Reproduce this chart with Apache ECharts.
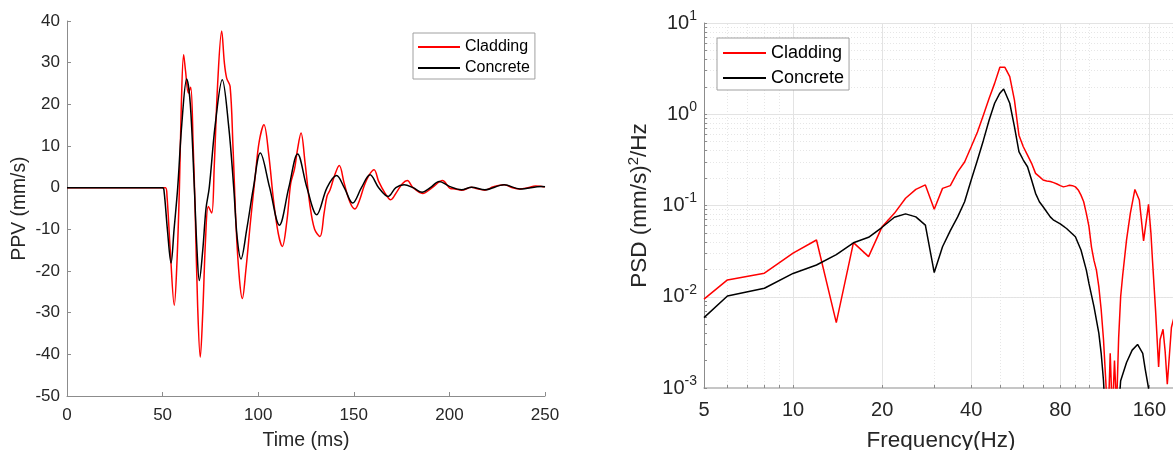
<!DOCTYPE html>
<html>
<head>
<meta charset="utf-8">
<script src="https://cdn.jsdelivr.net/npm/echarts@6/dist/echarts.min.js"></script>
<style>
html,body{margin:0;padding:0;background:#fff;}
#c{width:1173px;height:450px;}
</style>
</head>
<body>
<div id="c"></div>
<script>
// ---------- Left panel: PPV time histories ----------
const timeCladding = [0,51.5,52.3,54,56.1,57.5,58.8,59.8,61.0,62,63.5,64.7,66,67,68.3,69.7,71,72.5,73.9,75.7,77,78.8,80.9,82.3,83.5,85.3,86.8,88.5,90.2,91.7,93.5,96,98.5,100.5,103.0,105.5,108,110.5,112.6,115,117,119,120.5,122.4,124.5,127,129.5,132.3,134.5,136,137.6,140,142.4,145,148,150.6,153,155.5,158,160.6,163,166.3,169.3,172.5,175.5,178,181,186,191,196.4,200.5,203,206.4,211.6,214,218.6,223,228.6,233,236.9,241,245,248.3,250];
const ppvCladding = [0,0,-2,-15,-28.2,-18,0,20,31.9,28,22.7,24.1,10,-5,-28,-40.7,-30,-12,-4.5,-6.1,5,25,37.6,30,26.3,24.3,10,-10,-22,-26.6,-20,-8,3,11,15.1,8,-3,-11,-14.1,-8,1,4.5,9,13.1,6,-4,-10,-11.7,-6,-2,-0.5,3,5.3,1,-3.5,-5.1,-3,0.5,3,4.3,1.5,-1.3,-2.9,-1,1,1.7,0,-1.4,0,1.7,-0.2,-0.3,-0.6,0.1,-0.2,-0.6,0.2,0.7,0,-0.3,0,0.4,0.3,0.2];

const timeConcrete = [0,50,50.8,52.5,54.4,56,57.9,60,62.6,64.5,66.6,68,69.2,71,72.7,74.4,77.5,81.2,84.5,87.2,89,91.0,94,97.5,101.1,106,111.1,116,120.6,125.5,130.6,136,141.0,145,149.4,154,158.5,163,168.0,172,176.3,181,185.7,190,194.7,200,206.4,211.6,218.6,228.6,236.9,248.3,250];
const ppvConcrete = [0,0,-1,-10,-18.1,-10,0,15,26.1,20,0,-15,-22.3,-15,-5,0,15,25.9,15,0,-12,-17.1,-10,0,8.3,0,-9.0,0,8.1,0,-6.5,0,2.9,0,-3.7,0,3.1,0,-2.1,0,0.7,0,-1.1,0,1.5,0.3,-0.5,0.1,-0.5,0.7,-0.3,0.3,0.2];

// ---------- Right panel: PSD ----------
const freqCladding = [5,6,8,10,12,14,16,18,20,22,24,26,28,30,32,34,36,38,40,42,44,46,48,50,52,54,56,58,60,62,64,66,68,70,72,74,76,78,80,82,84,86,88,90,92,94,96,98,100,102,104,106,108,110,112,114,116,118,120,122,124,126,128,130,134,138,143,148,153,159,162,164,168,172,174,178,181,184,190,194];
const psdCladding = [0.0094,0.0153,0.0181,0.030,0.0419,0.0052,0.0392,0.0275,0.0586,0.082,0.12,0.150,0.168,0.091,0.154,0.165,0.234,0.30,0.44,0.64,0.98,1.50,2.18,3.27,3.27,2.58,1.43,0.59,0.44,0.357,0.29,0.225,0.207,0.19,0.186,0.183,0.178,0.172,0.165,0.16,0.163,0.167,0.165,0.16,0.148,0.130,0.110,0.082,0.059,0.035,0.025,0.0196,0.0129,0.0072,0.0034,0.0012,0.0004,0.0024,0.0005,0.002,0.0006,0.0035,0.01,0.017,0.042,0.082,0.150,0.115,0.041,0.103,0.05,0.025,0.007,0.0017,0.0034,0.0044,0.0025,0.0011,0.0046,0.006];

const freqConcrete = [5,6,8,10,12,14,16,18,20,22,24,26,28,30,32,34,36,38,40,42,44,46,48,50,51.5,52,54,56,58,60,62,64,66,68,70,74,76,80,84,90,94,98,100,104,108,110,112,114,116,122,126,128,134,140,146,152,155,159,162];
const psdConcrete = [0.0059,0.0102,0.0124,0.018,0.0223,0.029,0.039,0.0448,0.0577,0.0743,0.081,0.075,0.061,0.0184,0.0353,0.053,0.075,0.110,0.19,0.315,0.52,0.865,1.32,1.70,1.89,1.85,1.32,0.73,0.39,0.315,0.266,0.19,0.136,0.11,0.097,0.075,0.069,0.063,0.056,0.0455,0.0325,0.0196,0.014,0.0078,0.004,0.0024,0.0012,0.0004,0.0002,0.0001,0.0006,0.0012,0.0019,0.0026,0.003,0.0024,0.0016,0.001,0.0004];

const timeTicks = [0,50,100,150,200,250];
const freqTickLabels = [5,10,20,40,80,160];
const freqMinor = [6,7,8,9,30,50,60,70,90,100,200];
const psdDecades = [0.001,0.01,0.1,1,10];

// ---------- helpers ----------
const FONT = 'Liberation Sans, Arial, sans-serif';
const RED = '#ff0000', BLACK = '#000000';
const zip = (a, b) => a.map((v, i) => [v, b[i]]);

const psdMinor = [];
psdDecades.slice(0, -1).forEach(d => { for (let k = 2; k <= 9; k++) psdMinor.push(+(d * k).toPrecision(3)); });

const majorLine = {color: '#e3e3e3', width: 1, type: 'solid'};
const minorLine = {color: '#e6e6e6', width: 1, type: [1, 2]};
const gridMarks = [];
freqTickLabels.forEach(v => gridMarks.push({xAxis: v, lineStyle: majorLine}));
freqMinor.forEach(v => gridMarks.push({xAxis: v, lineStyle: minorLine}));
psdDecades.forEach(v => gridMarks.push({yAxis: v, lineStyle: majorLine}));
psdMinor.forEach(v => gridMarks.push({yAxis: v, lineStyle: minorLine}));

const chart = echarts.init(document.getElementById('c'), null, {renderer: 'canvas'});
const axisGray = '#8c8c8c';
const labelColor = '#262626';

chart.setOption({
  animation: false,
  textStyle: {fontFamily: FONT},
  grid: [
    {left: 67, right: 628, top: 21, bottom: 54, containLabel: false, outerBoundsMode: 'none'},
    {left: 704, right: -5, top: 23, bottom: 62, containLabel: false, outerBoundsMode: 'none'}
  ],
  legend: [
    {
      data: ['Cladding', 'Concrete'], orient: 'vertical', left: 413, top: 33, z: 20,
      padding: [6, 5, 3, 5], itemGap: 5, itemWidth: 42, itemHeight: 2,
      borderColor: '#a0a0a0', borderWidth: 1, backgroundColor: '#fff',
      icon: 'rect', selectedMode: false,
      textStyle: {fontSize: 16, lineHeight: 16, color: '#000', fontFamily: FONT}
    },
    {
      data: ['Cladding', 'Concrete'], orient: 'vertical', left: 717, top: 38, z: 20,
      padding: [6, 5, 3, 6], itemGap: 7, itemWidth: 43, itemHeight: 2,
      borderColor: '#a0a0a0', borderWidth: 1, backgroundColor: '#fff',
      icon: 'rect', selectedMode: false,
      textStyle: {fontSize: 18, lineHeight: 18, color: '#000', fontFamily: FONT}
    }
  ],
  xAxis: [
    {
      gridIndex: 0, type: 'value', min: 0, max: 250, interval: 50,
      name: 'Time (ms)', nameLocation: 'middle', nameGap: 35,
      nameTextStyle: {fontSize: 19.5, color: labelColor, fontFamily: FONT},
      axisLine: {show: true, onZero: false, lineStyle: {color: axisGray, width: 1}},
      axisTick: {show: true, inside: true, length: 4, lineStyle: {color: axisGray}},
      axisLabel: {fontSize: 17, color: labelColor, margin: 11, fontFamily: FONT},
      splitLine: {show: false}
    },
    {
      gridIndex: 1, type: 'log', logBase: 10, min: 5, max: 200,
      name: 'Frequency(Hz)', nameLocation: 'middle', nameGap: 41,
      nameTextStyle: {fontSize: 22.5, color: labelColor, fontFamily: FONT},
      axisLine: {show: true, onZero: false, lineStyle: {color: '#b4b4b4', width: 1.5}},
      axisTick: {show: true, inside: true, length: 3, customValues: freqTickLabels.concat(freqMinor), lineStyle: {color: axisGray}},
      axisLabel: {fontSize: 20, color: labelColor, margin: 12, customValues: freqTickLabels, fontFamily: FONT,
                  formatter: v => String(Math.round(v))},
      splitLine: {show: false}, minorSplitLine: {show: false}
    }
  ],
  yAxis: [
    {
      gridIndex: 0, type: 'value', min: -50, max: 40, interval: 10,
      name: 'PPV (mm/s)', nameLocation: 'middle', nameGap: 38, nameRotate: 90,
      nameTextStyle: {fontSize: 19.3, color: labelColor, fontFamily: FONT},
      axisLine: {show: true, onZero: false, lineStyle: {color: axisGray, width: 1}},
      axisTick: {show: true, inside: true, length: 4, lineStyle: {color: axisGray}},
      axisLabel: {fontSize: 17, color: labelColor, margin: 7, fontFamily: FONT},
      splitLine: {show: false}
    },
    {
      gridIndex: 1, type: 'log', logBase: 10, min: 0.001, max: 10,
      name: 'PSD (mm/s){s|2}/Hz', nameLocation: 'middle', nameGap: 50, nameRotate: 90,
      nameTextStyle: {fontSize: 22.5, color: labelColor, fontFamily: FONT,
                      rich: {s: {fontSize: 15, color: labelColor, fontFamily: FONT, padding: [0, 0, 13, 0]}}},
      axisLine: {show: true, onZero: false, lineStyle: {color: axisGray, width: 1}},
      axisTick: {show: true, inside: true, length: 3, customValues: psdDecades.concat(psdMinor), lineStyle: {color: axisGray}},
      axisLabel: {
        color: labelColor, margin: 7, customValues: psdDecades,
        formatter: v => '{b|10}{s|' + Math.round(Math.log10(v)) + '}',
        rich: {
          b: {fontSize: 20, color: labelColor, fontFamily: FONT},
          s: {fontSize: 14, color: labelColor, fontFamily: FONT, padding: [0, 0, 14, 0]}
        }
      },
      splitLine: {show: false}
    }
  ],
  series: [
    {
      name: 'grid', type: 'line', xAxisIndex: 1, yAxisIndex: 1, z: 0, silent: true,
      data: [[5, 0.001]], showSymbol: false, symbol: 'none', lineStyle: {width: 0, opacity: 0},
      markLine: {z: 0, silent: true, symbol: ['none', 'none'], label: {show: false}, animation: false,
                 emphasis: {disabled: true}, data: gridMarks}
    },
    {
      name: 'Cladding', type: 'line', xAxisIndex: 0, yAxisIndex: 0, z: 6,
      data: zip(timeCladding, ppvCladding), smooth: 0.35, symbol: 'none',
      lineStyle: {color: RED, width: 1.5}, itemStyle: {color: RED}
    },
    {
      name: 'Concrete', type: 'line', xAxisIndex: 0, yAxisIndex: 0, z: 7,
      data: zip(timeConcrete, ppvConcrete), smooth: 0.35, symbol: 'none',
      lineStyle: {color: BLACK, width: 1.5}, itemStyle: {color: BLACK}
    },
    {
      name: 'Cladding', type: 'line', xAxisIndex: 1, yAxisIndex: 1, z: 6,
      data: zip(freqCladding, psdCladding), symbol: 'none',
      lineStyle: {color: RED, width: 1.5}, itemStyle: {color: RED}
    },
    {
      name: 'Concrete', type: 'line', xAxisIndex: 1, yAxisIndex: 1, z: 7,
      data: zip(freqConcrete, psdConcrete), symbol: 'none',
      lineStyle: {color: BLACK, width: 1.5}, itemStyle: {color: BLACK}
    }
  ]
});
</script>
</body>
</html>
